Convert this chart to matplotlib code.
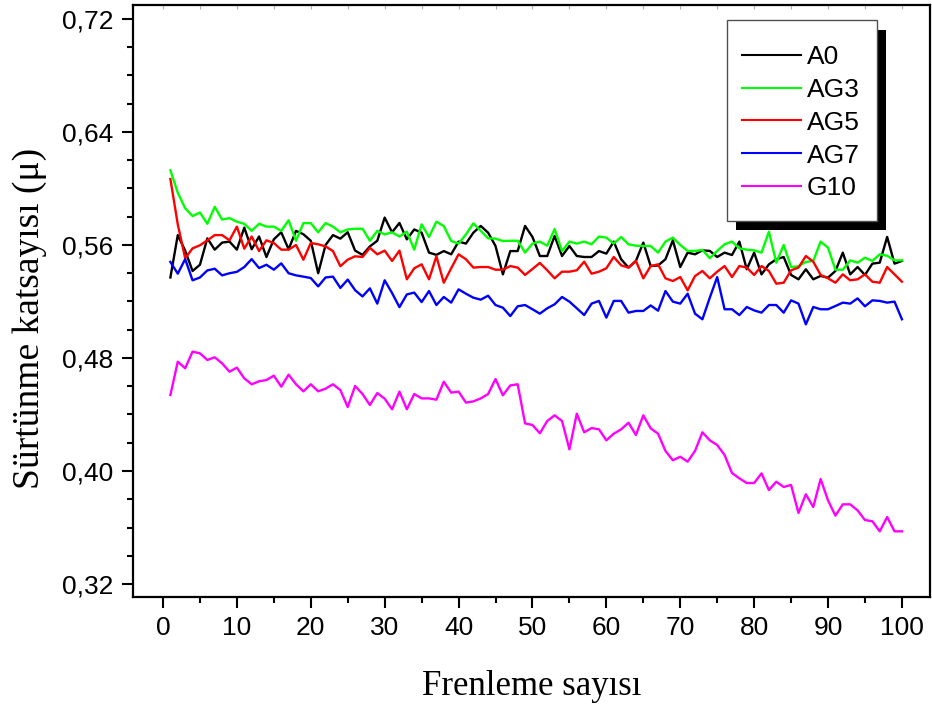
import numpy as np
import matplotlib.pyplot as plt
from matplotlib.ticker import MultipleLocator, FuncFormatter
from matplotlib.patches import Rectangle
from matplotlib.lines import Line2D

# Frenleme sayısı (braking cycle number)
cycles = np.arange(1, 101)

a0 = [0.537, 0.567, 0.556, 0.5416, 0.546, 0.5647, 0.5567, 0.5617, 0.5624, 0.5567,
      0.5723, 0.557, 0.566, 0.5515, 0.564, 0.569, 0.557, 0.570, 0.5676, 0.563,
      0.540, 0.560, 0.567, 0.5645, 0.569, 0.556, 0.553, 0.559, 0.563, 0.5794,
      0.569, 0.5756, 0.564, 0.571, 0.5687, 0.5546, 0.553, 0.5557, 0.5534, 0.5624,
      0.561, 0.5687, 0.5735, 0.5687, 0.5593, 0.5392, 0.5557, 0.5557, 0.5735, 0.5657,
      0.5522, 0.5522, 0.5664, 0.5522, 0.5593, 0.5522, 0.5515, 0.5515, 0.5557, 0.5539,
      0.5624, 0.5499, 0.544, 0.5487, 0.5617, 0.5451, 0.5455, 0.5499, 0.5633, 0.5444,
      0.5546, 0.5534, 0.5562, 0.5558, 0.5515, 0.5546, 0.5529, 0.5624, 0.5428, 0.5546,
      0.5392, 0.5463, 0.5499, 0.5515, 0.5388, 0.5357, 0.5428, 0.5357, 0.5381, 0.5369,
      0.5416, 0.5546, 0.5392, 0.5444, 0.5388, 0.5468, 0.5475, 0.5657, 0.5468, 0.5487]

ag3 = [0.6129, 0.597, 0.586, 0.5805, 0.583, 0.575, 0.587, 0.578, 0.579, 0.5765,
       0.575, 0.570, 0.575, 0.573, 0.573, 0.570, 0.5775, 0.563, 0.5755, 0.5755,
       0.569, 0.5755, 0.573, 0.569, 0.571, 0.5715, 0.5715, 0.563, 0.570, 0.5675,
       0.569, 0.566, 0.5694, 0.5567, 0.5746, 0.5657, 0.5765, 0.5734, 0.5628, 0.561,
       0.5675, 0.5753, 0.570, 0.5647, 0.5645, 0.5628, 0.563, 0.563, 0.5546, 0.561,
       0.5624, 0.5595, 0.5713, 0.5557, 0.5624, 0.561, 0.5624, 0.5605, 0.566, 0.5652,
       0.561, 0.5657, 0.5605, 0.5595, 0.5593, 0.5593, 0.5546, 0.5624, 0.5652, 0.560,
       0.5558, 0.5558, 0.5565, 0.5506, 0.5558, 0.5605, 0.5624, 0.5576, 0.5567, 0.5562,
       0.5546, 0.5694, 0.5475, 0.560, 0.5444, 0.5449, 0.548, 0.5487, 0.5624, 0.5581,
       0.5425, 0.5425, 0.5491, 0.5475, 0.551, 0.5487, 0.5534, 0.5524, 0.5491, 0.5491]

ag5 = [0.6067, 0.5746, 0.5506, 0.5576, 0.5598, 0.5633, 0.567, 0.567, 0.5633, 0.573,
       0.5574, 0.566, 0.5557, 0.5633, 0.5614, 0.5567, 0.5567, 0.560, 0.5496, 0.5614,
       0.5605, 0.559, 0.5557, 0.545, 0.5496, 0.552, 0.5515, 0.558, 0.5534, 0.556,
       0.5487, 0.556, 0.5357, 0.5435, 0.5463, 0.5357, 0.552, 0.5333, 0.5435, 0.5534,
       0.5499, 0.544, 0.5444, 0.5444, 0.5425, 0.5425, 0.5451, 0.544, 0.5388, 0.543,
       0.5473, 0.5421, 0.5364, 0.5411, 0.5411, 0.5421, 0.5482, 0.5397, 0.5411, 0.5435,
       0.5515, 0.5456, 0.544, 0.5487, 0.5364, 0.5451, 0.5463, 0.5364, 0.5345, 0.5373,
       0.5279, 0.538, 0.5416, 0.5364, 0.5411, 0.5451, 0.5373, 0.5451, 0.544, 0.5388,
       0.5451, 0.5416, 0.5326, 0.5333, 0.5421, 0.544, 0.5522, 0.5482, 0.5388, 0.5364,
       0.5333, 0.5392, 0.535, 0.5357, 0.5392, 0.534, 0.5333, 0.5444, 0.5392, 0.534]

ag7 = [0.548, 0.5397, 0.550, 0.535, 0.537, 0.542, 0.5432, 0.5385, 0.540, 0.541,
       0.5444, 0.550, 0.5437, 0.546, 0.5425, 0.547, 0.540, 0.5385, 0.5376, 0.5366,
       0.5307, 0.537, 0.5376, 0.5296, 0.5355, 0.528, 0.5236, 0.5293, 0.5185, 0.535,
       0.526, 0.516, 0.525, 0.5263, 0.5196, 0.5274, 0.5175, 0.5232, 0.5192, 0.5286,
       0.5255, 0.5227, 0.5213, 0.5241, 0.5175, 0.5156, 0.5097, 0.5166, 0.5175, 0.5145,
       0.5114, 0.5152, 0.518, 0.5232, 0.5199, 0.5152, 0.5104, 0.5185, 0.5204, 0.5086,
       0.5204, 0.5204, 0.5121, 0.5133, 0.5133, 0.5172, 0.5135, 0.5274, 0.5199, 0.5185,
       0.5255, 0.5114, 0.5074, 0.5227, 0.5373, 0.5145, 0.5145, 0.5104, 0.5161, 0.5137,
       0.5121, 0.5175, 0.5175, 0.5121, 0.5208, 0.5185, 0.5038, 0.5161, 0.5145, 0.5145,
       0.5168, 0.5192, 0.5185, 0.5222, 0.5166, 0.5208, 0.5204, 0.5192, 0.5199, 0.5074]

g10 = [0.4538, 0.4774, 0.4727, 0.4845, 0.4833, 0.4786, 0.4805, 0.4762, 0.4703, 0.4732,
       0.4656, 0.4614, 0.4635, 0.4644, 0.4675, 0.4597, 0.4682, 0.4614, 0.4564, 0.4614,
       0.4564, 0.4583, 0.4614, 0.4573, 0.4453, 0.4602, 0.4545, 0.4467, 0.4552, 0.4512,
       0.4437, 0.4562, 0.4437, 0.4545, 0.4514, 0.4514, 0.4505, 0.4632, 0.4555, 0.4562,
       0.4484, 0.4493, 0.4514, 0.4545, 0.4651, 0.4536, 0.4606, 0.4614, 0.4337, 0.4326,
       0.4267, 0.4354, 0.4394, 0.4354, 0.4153, 0.4406, 0.4274, 0.4304, 0.4295, 0.4217,
       0.4264, 0.4295, 0.4342, 0.4255, 0.4394, 0.4302, 0.4264, 0.4142, 0.4076, 0.4101,
       0.4066, 0.4142, 0.4274, 0.4217, 0.4184, 0.4113, 0.3986, 0.3948, 0.3915, 0.3915,
       0.3983, 0.3865, 0.3924, 0.3887, 0.3901, 0.3703, 0.3835, 0.3745, 0.3943, 0.3792,
       0.3684, 0.3764, 0.3764, 0.3721, 0.3653, 0.3644, 0.3573, 0.3674, 0.3573, 0.3573]

names = ["A0", "AG3", "AG5", "AG7", "G10"]
colors = ["#000000", "#00ff00", "#ff0000", "#0000ff", "#ff00ff"]
data = [a0, ag3, ag5, ag7, g10]

plt.rcParams['font.family'] = ['Liberation Sans', 'DejaVu Sans']

W, H = 932, 706
fig = plt.figure(figsize=(W / 100, H / 100), dpi=100)
# axes box in pixels: left 133, right 930, top 5, bottom 597
ax = fig.add_axes([133 / W, 1 - 597 / H, 797 / W, 592 / H])

for name, vals, col in zip(names, data, colors):
    ax.plot(cycles, vals, color=col, lw=1.7)

ax.set_xlim(-4.06, 103.8)
ax.set_ylim(0.3108, 0.7299)
ax.xaxis.set_major_locator(MultipleLocator(10))
ax.xaxis.set_minor_locator(MultipleLocator(5))
ax.yaxis.set_major_locator(MultipleLocator(0.08))
ax.yaxis.set_minor_locator(MultipleLocator(0.02))
ax.yaxis.set_major_formatter(FuncFormatter(lambda v, p: f"{v:.2f}".replace(".", ",")))

for s in ax.spines.values():
    s.set_linewidth(1.6)
ax.tick_params(which='major', direction='out', length=8, width=1.5, labelsize=19, pad=6)
ax.tick_params(which='minor', direction='out', length=4, width=1.5)

# faint inner ticks along the top edge
top = ax.secondary_xaxis('top')
top.xaxis.set_major_locator(MultipleLocator(5))
top.tick_params(direction='in', length=3, width=0.8, colors='#b0b0b0', labeltop=False)
top.spines['top'].set_visible(False)

ax.set_xlabel("Frenleme sayısı", family='Liberation Serif', fontsize=25, labelpad=21)
ax.set_ylabel("Sürtünme katsayısı (μ)", family='Liberation Serif', fontsize=27)
ax.yaxis.set_label_coords(-0.108, 0.47)


# legend box with a solid drop shadow, laid out in pixel units
def px(x, y):
    return (x - 133) / 797, (597 - y) / 592


def box(x0, y0, x1, y1, **kw):
    (ax0, ay1), (ax1, ay0) = px(x0, y0), px(x1, y1)
    ax.add_patch(Rectangle((ax0, ay0), ax1 - ax0, ay1 - ay0, transform=ax.transAxes,
                           clip_on=False, **kw))


box(735.5, 29.5, 885.5, 230, facecolor='black', edgecolor='none', zorder=5)
box(727, 20, 876.5, 220.5, facecolor='white', edgecolor='#505050', lw=1.0, zorder=6)
for k, (name, col) in enumerate(zip(names, colors)):
    yk = 55 + 32.7 * k
    (lx0, ly), (lx1, _) = px(742, yk), px(801, yk)
    ax.add_line(Line2D([lx0, lx1], [ly, ly], color=col, lw=1.5, transform=ax.transAxes,
                       clip_on=False, zorder=7))
    tx, ty = px(807, yk)
    ax.text(tx, ty, name, transform=ax.transAxes, fontsize=19, va='center_baseline',
            ha='left', zorder=7)

fig.savefig("out.png", dpi=100)
